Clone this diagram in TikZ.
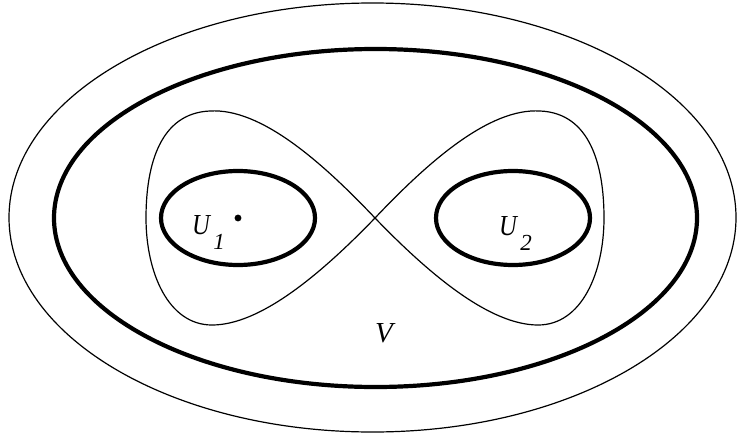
\documentclass[tikz,border=0pt]{standalone}
\usepackage{fontspec}
\setmainfont{Liberation Serif}
\newcommand{\lbl}[2]{\scalebox{0.85}[1]{\textit{#1}}\kern2pt\raisebox{-15pt}{\fontsize{23}{23}\selectfont\itshape #2}}
\begin{document}
\begin{tikzpicture}[x=1pt,y=-1pt,
  fine/.style={line width=1.2pt},
  bold/.style={line width=4.2pt},
  txt/.style={inner sep=0pt,anchor=base west,font=\fontsize{29}{31}\selectfont}]
\useasboundingbox(0,0)rectangle(738,436);
\draw[fine](372.5,217.5)ellipse(363.5 and 214.5);
\draw[bold](375.5,218)ellipse(321.5 and 169);
\draw[bold](238,218)ellipse(77 and 47);
\draw[bold](513,218)ellipse(77 and 47);
\draw[fine](375,218)..controls(320,160)and(260,108)..(210,111)
  ..controls(160,113)and(146,165)..(146,218)
  ..controls(146,272)and(168,325)..(212,325)
  ..controls(260,325)and(320,275)..(375,218)
  ..controls(430,160)and(490,108)..(540,111)
  ..controls(590,113)and(604,165)..(604,218)
  ..controls(604,272)and(582,325)..(538,325)
  ..controls(490,325)and(430,275)..(375,218);
\filldraw[fill=black](238,218)circle(3.2pt);
\node[txt](u1)at(192,234){\lbl{U}{1}};
\node[txt](u2)at(499,235){\lbl{U}{2}};
\node[txt](v)at(375,342){\textit{V}};
\end{tikzpicture}
\end{document}
